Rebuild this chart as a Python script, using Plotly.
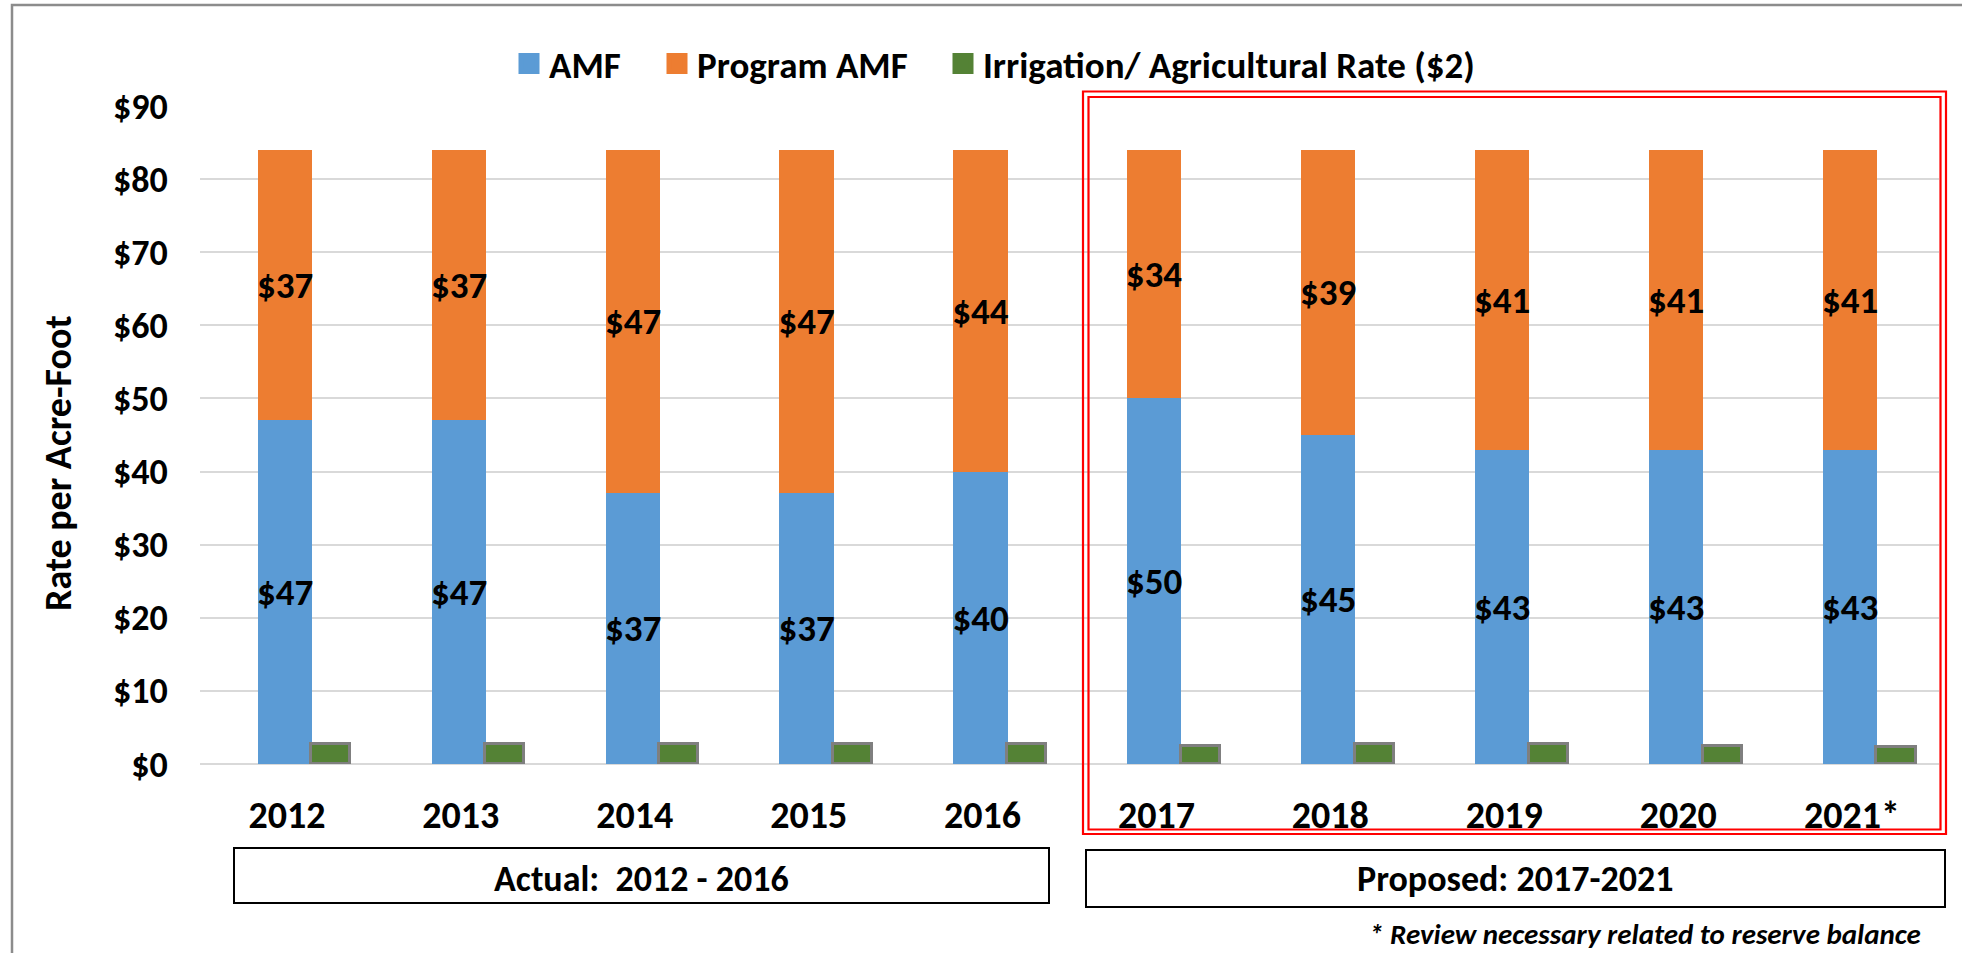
import plotly.graph_objects as go

# ---- data ----
years = ["2012", "2013", "2014", "2015", "2016", "2017", "2018", "2019", "2020", "2021*"]
amf = [47, 47, 37, 37, 40, 50, 45, 43, 43, 43]
program_amf = [37, 37, 47, 47, 44, 34, 39, 41, 41, 41]
irrigation = [2.7, 2.7, 2.7, 2.8, 2.8, 2.5, 2.7, 2.8, 2.5, 2.3]
y_ticks = [0, 10, 20, 30, 40, 50, 60, 70, 80, 90]
y_tick_text = ["$" + str(v) for v in y_ticks]
series_names = ["AMF", "Program AMF", "Irrigation/ Agricultural Rate ($2)"]
series_colors = ["#5b9bd5", "#ed7d31", "#548235"]

FONT = "Calibri, Carlito, Lato, sans-serif"
W, H = 1962, 953
L, R, T, B = 200, 1939, 106, 764


def xp(px):
    return (px - L) / (R - L)


def yp(py):
    return (B - py) / (B - T)


LABEL_FONT = dict(family=FONT, size=37, color="black", weight="bold")

fig = go.Figure()
fig.add_trace(go.Bar(
    name=series_names[0], x=years, y=amf, width=0.312, offset=-0.168, showlegend=False,
    marker=dict(color=series_colors[0], line=dict(width=0)),
    text=["$" + str(v) for v in amf], textposition="inside",
    insidetextanchor="middle", textangle=0, constraintext="none",
    textfont=LABEL_FONT, hoverinfo="x+y+name",
))
fig.add_trace(go.Bar(
    name=series_names[1], x=years, y=program_amf, base=amf, width=0.312, offset=-0.168,
    showlegend=False,
    marker=dict(color=series_colors[1], line=dict(width=0)),
    text=["$" + str(v) for v in program_amf], textposition="inside",
    insidetextanchor="middle", textangle=0, constraintext="none",
    textfont=LABEL_FONT, hoverinfo="x+y+name",
))
fig.add_trace(go.Bar(
    name=series_names[2], x=years, y=irrigation, showlegend=False,
    width=0.225, offset=0.14,
    marker=dict(color=series_colors[2], line=dict(width=3, color="#7f7f7f")),
))

# legend entries (larger square swatches), one legend per entry for exact placement
legend_keys = ["legend", "legend2", "legend3"]
for name, color, key in zip(series_names, series_colors, legend_keys):
    fig.add_trace(go.Scatter(
        name=name, x=[None], y=[None], mode="markers", legend=key,
        marker=dict(symbol="square", size=16, color=color, line=dict(width=5, color=color)),
    ))

shapes = [
    # outer gray frame
    dict(type="rect", xref="paper", yref="paper", x0=xp(12), x1=xp(1990), y0=yp(990), y1=yp(5),
         line=dict(color="#8c8c8c", width=2.5), layer="below"),
    # red double frame
    dict(type="rect", xref="paper", yref="paper", x0=xp(1083), x1=xp(1946), y0=yp(834), y1=yp(91.5),
         line=dict(color="#ff0000", width=2.2)),
    dict(type="rect", xref="paper", yref="paper", x0=xp(1088.5), x1=xp(1940.5), y0=yp(829.5), y1=yp(97),
         line=dict(color="#ff0000", width=2.2)),
    # period boxes
    dict(type="rect", xref="paper", yref="paper", x0=xp(234), x1=xp(1049), y0=yp(903), y1=yp(848),
         line=dict(color="black", width=2)),
    dict(type="rect", xref="paper", yref="paper", x0=xp(1086), x1=xp(1945), y0=yp(907), y1=yp(850),
         line=dict(color="black", width=2)),
]

BOX_FONT = dict(family=FONT, size=36, color="black", weight="bold")
annotations = [
    dict(text="Actual:&nbsp; 2012 - 2016", xref="paper", yref="paper", x=xp(641), y=yp(879),
         xanchor="center", yanchor="middle", showarrow=False, font=BOX_FONT),
    dict(text="Proposed: 2017-2021", xref="paper", yref="paper", x=xp(1515), y=yp(879),
         xanchor="center", yanchor="middle", showarrow=False, font=BOX_FONT),
    dict(text="<i>* Review necessary related to reserve balance</i>", xref="paper", yref="paper",
         x=xp(1923), y=yp(934), xanchor="right", yanchor="middle", showarrow=False,
         font=dict(family=FONT, size=29, color="black", weight="bold")),
    dict(text="Rate per Acre-Foot", xref="paper", yref="paper", x=xp(58), y=yp(463),
         xanchor="center", yanchor="middle", textangle=-90, showarrow=False,
         font=dict(family=FONT, size=38, color="black", weight="bold")),
]

LEG_FONT = dict(family=FONT, size=37, color="black", weight="bold")
legend_left_px = [509, 657, 943]
legend_layout = {}
for key, lx in zip(legend_keys, legend_left_px):
    legend_layout[key] = dict(orientation="h", x=xp(lx), xanchor="left", y=yp(64), yanchor="middle",
                              font=LEG_FONT, bgcolor="rgba(0,0,0,0)", borderwidth=0)

fig.update_layout(
    width=W, height=H,
    margin=dict(l=L, r=W - R, t=T, b=H - B, pad=0),
    paper_bgcolor="white", plot_bgcolor="white",
    barmode="overlay", bargap=0,
    font=dict(family=FONT, size=31, color="black", weight="bold"),
    showlegend=True,
    shapes=shapes, annotations=annotations,
    **legend_layout,
)
fig.update_xaxes(
    type="category", showgrid=False, zeroline=False, showline=False,
    ticks="outside", ticklen=17, tickcolor="rgba(0,0,0,0)",
    tickfont=dict(family=FONT, size=38, color="black", weight="bold"),
)
fig.update_yaxes(
    range=[0, 90], tickvals=y_ticks, ticktext=y_tick_text,
    showgrid=True, gridcolor="#d9d9d9", gridwidth=1.5,
    zeroline=True, zerolinecolor="#d9d9d9", zerolinewidth=1.5, showline=False,
    ticks="outside", ticklen=24, tickcolor="rgba(0,0,0,0)",
    tickfont=dict(family=FONT, size=36, color="black", weight="bold"),
)

fig.write_html("out.html", config={"displayModeBar": False})
with open("out.html", "r", encoding="utf-8") as f:
    html = f.read()
html = html.replace("<body>", '<body style="margin:0;padding:0;">', 1)
with open("out.html", "w", encoding="utf-8") as f:
    f.write(html)
